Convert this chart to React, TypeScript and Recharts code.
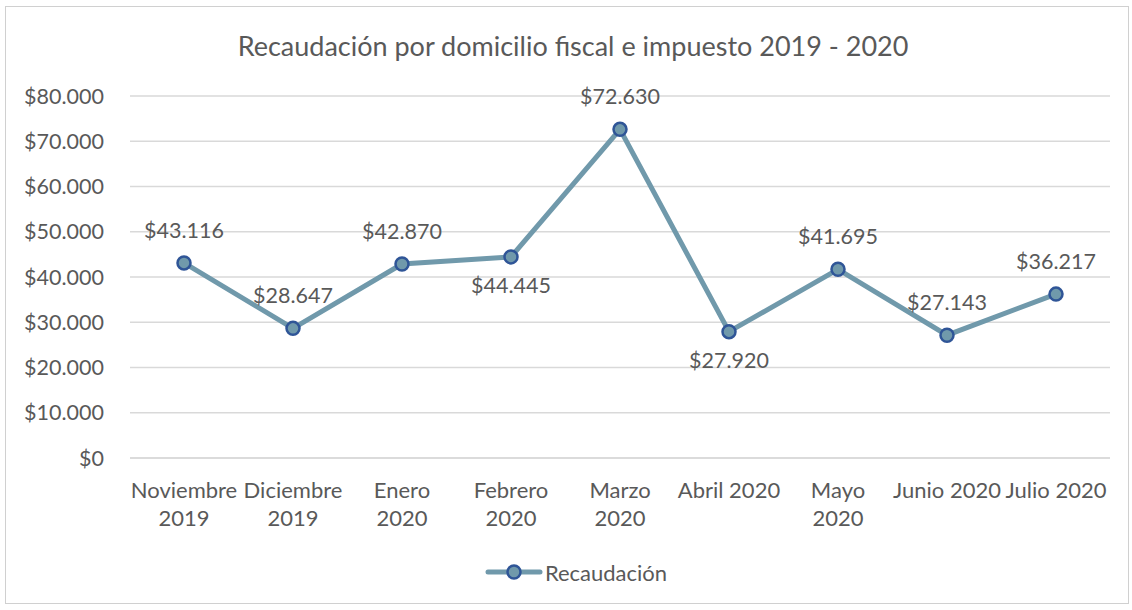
import { LineChart, Line, XAxis, YAxis, CartesianGrid, Legend, LabelList } from 'recharts'

const months = [
  'Noviembre\n2019',
  'Diciembre\n2019',
  'Enero\n2020',
  'Febrero\n2020',
  'Marzo\n2020',
  'Abril 2020',
  'Mayo\n2020',
  'Junio 2020',
  'Julio 2020',
]
const recaudacion = [43116, 28647, 42870, 44445, 72630, 27920, 41695, 27143, 36217]
const yTicks = [0, 10000, 20000, 30000, 40000, 50000, 60000, 70000, 80000]

// where Excel put each data label
const labelSide = ['top', 'top', 'top', 'bottom', 'top', 'bottom', 'top', 'top', 'top']

const data = months.map((m, i) => ({ mes: m, valor: recaudacion[i] }))

const FONT = 'Lato, "Open Sans", sans-serif'
const TEXT = '#595959'
const LINE = '#7099ab'
const DOT = '#2f5597'

const money = (v: number) => '$' + String(v).replace(/\B(?=(\d{3})+(?!\d))/g, '.')

function MonthTick(props: any) {
  const { x, y, payload } = props
  const lines = String(payload.value).split('\n')
  return (
    <text x={x} y={y} textAnchor="middle" fill={TEXT} fontSize={22} fontFamily={FONT}>
      {lines.map((l, i) => (
        <tspan key={i} x={x} dy={i === 0 ? 32 : 28}>
          {l}
        </tspan>
      ))}
    </text>
  )
}

function ValueLabel(props: any) {
  const { x, y, value, index } = props
  const below = labelSide[index] === 'bottom'
  return (
    <text
      x={x}
      y={below ? y + 36 : y - 25}
      textAnchor="middle"
      fill={TEXT}
      fontSize={21.5}
      fontFamily={FONT}
    >
      {money(value)}
    </text>
  )
}

function LegendBox() {
  return (
    <div
      style={{
        display: 'flex',
        justifyContent: 'center',
        alignItems: 'center',
        height: 40,
        paddingLeft: 20,
        fontFamily: FONT,
        fontSize: 22,
        color: TEXT,
      }}
    >
      <svg width={60} height={20}>
        <line x1={3} y1={10} x2={55} y2={10} stroke={LINE} strokeWidth={5} strokeLinecap="round" />
        <circle cx={29} cy={10} r={6.5} fill={LINE} stroke={DOT} strokeWidth={2.5} />
      </svg>
      <span>Recaudación</span>
    </div>
  )
}

export default function App() {
  return (
    <div style={{ position: 'absolute', left: 0, top: 0, width: 1132, height: 610, background: '#fff' }}>
      <svg style={{ position: 'absolute', left: 0, top: 0 }} width={1132} height={80}>
        <text x={573} y={56} textAnchor="middle" fill={TEXT} fontSize={27} fontFamily={FONT}>
          Recaudación por domicilio fiscal e impuesto 2019 - 2020
        </text>
      </svg>
      <div style={{ position: 'absolute', left: 0, top: 0 }}>
        <LineChart
          width={1132}
          height={610}
          data={data}
          margin={{ top: 96, right: 22, left: 30, bottom: 18 }}
        >
          <CartesianGrid vertical={false} stroke="#d9d9d9" strokeWidth={1.5} />
          <XAxis
            dataKey="mes"
            interval={0}
            padding={{ left: 54, right: 54 }}
            tickLine={false}
            axisLine={{ stroke: '#d9d9d9', strokeWidth: 1.5 }}
            tick={<MonthTick />}
            height={94}
          />
          <YAxis
            domain={[0, 80000]}
            ticks={yTicks}
            tickFormatter={money}
            tickLine={false}
            axisLine={false}
            width={100}
            tickMargin={20}
            tick={{ fill: TEXT, fontSize: 21.5, fontFamily: FONT }}
          />
          <Legend
            verticalAlign="bottom"
            height={40}
            wrapperStyle={{ left: 0, width: 1132 }}
            content={() => <LegendBox />}
          />
          <Line
            type="linear"
            dataKey="valor"
            stroke={LINE}
            strokeWidth={5}
            dot={{ r: 6.5, fill: LINE, stroke: DOT, strokeWidth: 2.5 }}
            activeDot={false}
            isAnimationActive={false}
          >
            <LabelList dataKey="valor" content={<ValueLabel />} />
          </Line>
        </LineChart>
      </div>
      <div
        style={{
          position: 'absolute',
          left: 5,
          top: 6,
          width: 1122,
          height: 596,
          border: '1.5px solid #d0d0d0',
          pointerEvents: 'none',
        }}
      />
    </div>
  )
}
